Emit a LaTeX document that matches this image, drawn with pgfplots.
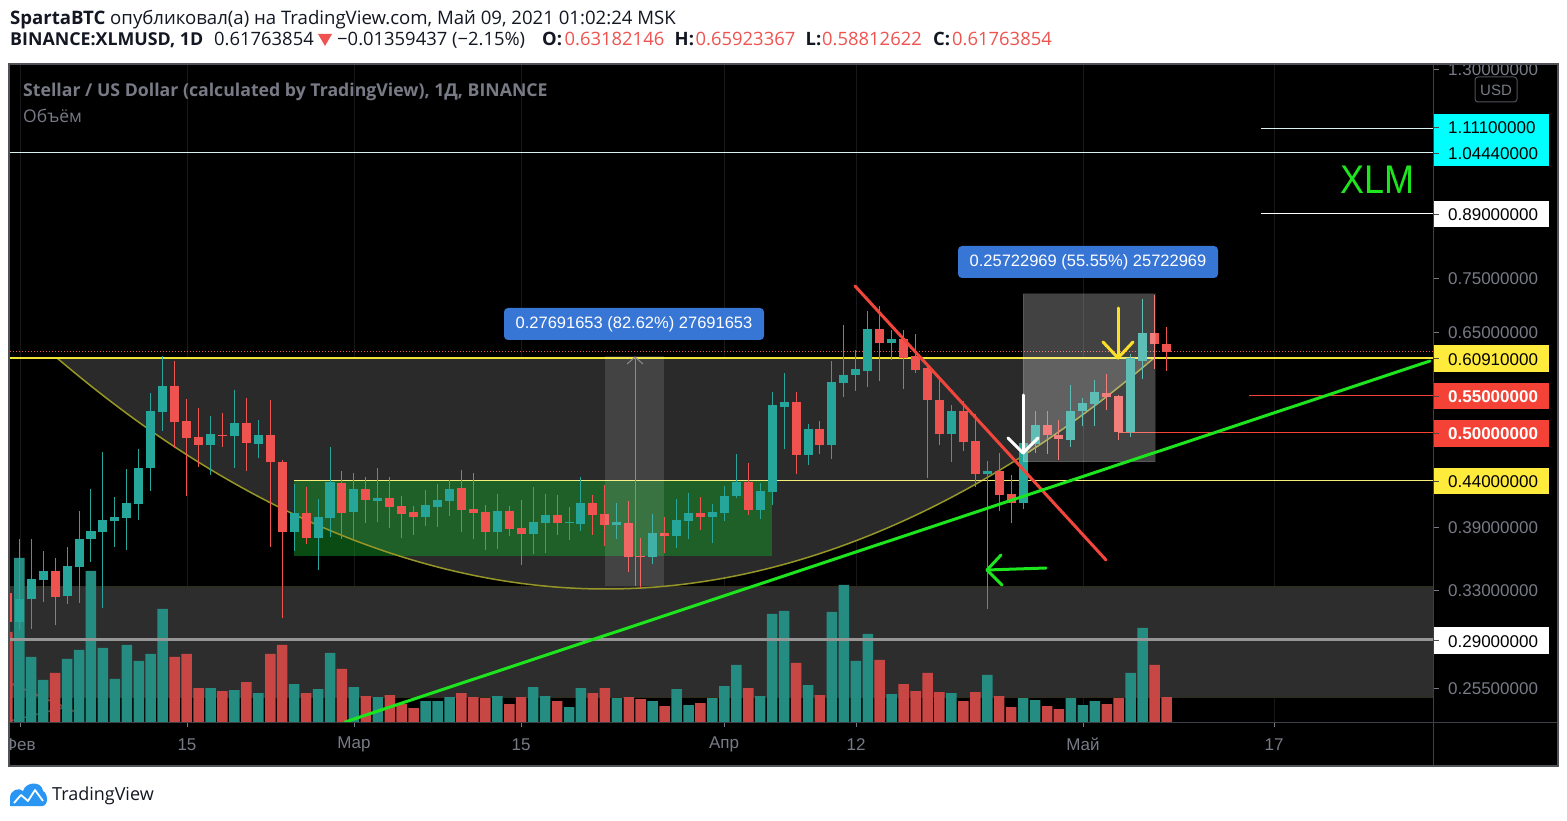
\documentclass[border=0pt]{standalone}
\usepackage{pgfplots}
\pgfplotsset{compat=1.18}
\usepackage{pgfplotstable}
\usepackage{fontspec}
\setmainfont{Open Sans}
\newfontfamily\lib{Liberation Sans}

\definecolor{cup}{RGB}{38,166,154}
\definecolor{cdown}{RGB}{239,83,80}
\definecolor{vup}{RGB}{37,140,130}
\definecolor{vdown}{RGB}{200,70,68}
\definecolor{tvgray}{RGB}{120,123,134}
\definecolor{bandc}{RGB}{45,45,45}
\definecolor{bandedge}{RGB}{45,45,25}
\definecolor{arcc}{RGB}{42,42,42}
\definecolor{arcline}{RGB}{150,150,40}
\definecolor{gboxc}{RGB}{20,150,40}
\definecolor{lvlyel}{RGB}{240,228,50}
\definecolor{lvlyel2}{RGB}{245,238,120}
\definecolor{lvlred}{RGB}{244,67,54}
\definecolor{lvlcyan}{RGB}{0,255,255}
\definecolor{lvlwhite}{RGB}{215,240,240}
\definecolor{boxyel}{RGB}{255,235,59}
\definecolor{trendred}{RGB}{242,70,60}
\definecolor{trendgreen}{RGB}{30,230,30}
\definecolor{mblue}{RGB}{56,118,214}
\definecolor{framec}{RGB}{80,82,90}
\definecolor{sepc}{RGB}{62,64,72}
\definecolor{gridc}{RGB}{24,24,26}
\definecolor{tvtext}{RGB}{19,23,34}
\definecolor{tvlogo}{RGB}{41,150,243}
\definecolor{arrowyel}{RGB}{250,225,40}
\definecolor{lvlgray}{RGB}{150,150,150}

% day index (0 = 1 Feb 2021), open, high, low, close, volume (relative units)
\pgfplotstableread{
d O H L C V
-1 0.3276 0.3346 0.2972 0.3035 90
0 0.3035 0.3777 0.2972 0.3224 164
1 0.3224 0.3777 0.2980 0.3399 65
2 0.3390 0.3659 0.3199 0.3472 42
3 0.3472 0.3593 0.3011 0.3241 49
4 0.3250 0.3698 0.3182 0.3518 63
5 0.3509 0.4065 0.3191 0.3777 72
6 0.3777 0.4308 0.3555 0.3857 151
7 0.3847 0.4749 0.3149 0.3970 74
8 0.3960 0.4218 0.3698 0.4001 43
9 0.3991 0.4541 0.3669 0.4152 77
10 0.4141 0.4787 0.3970 0.4553 61
11 0.4553 0.5547 0.4286 0.5290 68
12 0.5276 0.6114 0.5019 0.5649 113
13 0.5649 0.6034 0.4798 0.5139 65
14 0.5152 0.5459 0.4229 0.4926 68
15 0.4940 0.5331 0.4565 0.4836 34
16 0.4836 0.5221 0.4469 0.4979 34
17 0.4966 0.5262 0.4811 0.4953 31
18 0.4953 0.5591 0.4553 0.5125 32
19 0.5125 0.5473 0.4517 0.4862 40
20 0.4849 0.5166 0.4674 0.4966 29
21 0.4966 0.5445 0.3698 0.4626 68
22 0.4626 0.4650 0.3067 0.3847 77
23 0.3847 0.4365 0.3659 0.4044 38
24 0.4044 0.4330 0.3727 0.3787 29
25 0.3787 0.4195 0.3481 0.4001 33
26 0.3991 0.4812 0.3797 0.4388 69
27 0.4376 0.4517 0.3777 0.4044 53
28 0.4055 0.4493 0.3757 0.4308 35
29 0.4308 0.4446 0.3939 0.4185 26
30 0.4174 0.4553 0.3949 0.4207 25
31 0.4207 0.4446 0.3887 0.4108 27
32 0.4119 0.4229 0.3787 0.4033 18
33 0.4055 0.4119 0.3818 0.4001 14
34 0.4001 0.4297 0.3908 0.4130 21
35 0.4108 0.4365 0.3898 0.4185 21
36 0.4174 0.4411 0.4012 0.4308 25
37 0.4318 0.4529 0.3847 0.4076 29
38 0.4087 0.4493 0.3777 0.4044 25
39 0.4055 0.4130 0.3669 0.3847 24
40 0.3847 0.4252 0.3678 0.4065 26
41 0.4065 0.4119 0.3808 0.3877 18
42 0.3887 0.4185 0.3528 0.3827 25
43 0.3827 0.4330 0.3631 0.3949 35
44 0.3939 0.4252 0.3640 0.4022 26
45 0.4022 0.4241 0.3818 0.3939 21
46 0.3939 0.4108 0.3767 0.3949 15
47 0.3928 0.4446 0.3857 0.4152 34
48 0.4152 0.4241 0.3818 0.4022 29
49 0.4033 0.4353 0.3708 0.3918 34
50 0.3918 0.4152 0.3777 0.3949 24
51 0.3939 0.4174 0.3463 0.3602 25
52 0.3612 0.3787 0.3320 0.3600 23
53 0.3602 0.4033 0.3536 0.3837 21
54 0.3837 0.4001 0.3640 0.3808 16
55 0.3808 0.4196 0.3688 0.3970 33
56 0.3960 0.4263 0.3777 0.4044 17
57 0.4044 0.4218 0.3867 0.4001 19
58 0.4001 0.4141 0.3737 0.4055 24
59 0.4044 0.4342 0.3960 0.4229 36
60 0.4229 0.4724 0.4207 0.4388 57
61 0.4388 0.4613 0.4022 0.4076 34
62 0.4076 0.4376 0.3980 0.4286 26
63 0.4274 0.5562 0.4130 0.5375 108
64 0.5346 0.5846 0.4787 0.5416 111
65 0.5416 0.5562 0.4481 0.4712 59
66 0.4712 0.5112 0.4589 0.5045 37
67 0.5045 0.5152 0.4724 0.4836 27
68 0.4836 0.6034 0.4662 0.5710 110
69 0.5696 0.6643 0.5488 0.5816 137
70 0.5816 0.6212 0.5576 0.5909 61
71 0.5878 0.6883 0.5635 0.6564 88
72 0.6564 0.6974 0.5725 0.6327 62
73 0.6327 0.6547 0.6050 0.6394 28
74 0.6394 0.6547 0.5606 0.6082 38
75 0.6114 0.6478 0.5846 0.5893 31
76 0.5924 0.5940 0.4434 0.5445 49
77 0.5445 0.5740 0.4836 0.4979 30
78 0.4979 0.5374 0.4626 0.5290 29
79 0.5290 0.5431 0.4762 0.4875 21
80 0.4888 0.5248 0.4330 0.4481 30
81 0.4481 0.4638 0.3141 0.4517 47
82 0.4517 0.4737 0.4065 0.4241 26
83 0.4252 0.4469 0.3939 0.4152 15
84 0.4152 0.4901 0.4087 0.4862 24
85 0.4849 0.5290 0.4737 0.5098 22
86 0.5098 0.5290 0.4724 0.4966 16
87 0.4966 0.5166 0.4650 0.4914 13
88 0.4901 0.5665 0.4811 0.5290 24
89 0.5290 0.5473 0.5084 0.5402 17
90 0.5388 0.5740 0.5084 0.5562 21
91 0.5547 0.5831 0.5304 0.5488 18
92 0.5503 0.5518 0.4901 0.5006 24
93 0.5006 0.6147 0.4940 0.6082 49
94 0.6034 0.7104 0.5755 0.6496 94
95 0.6496 0.7179 0.5909 0.6312 57
96 0.6318 0.6592 0.5881 0.6176 25
}\candles

\newcommand\plabel[5]{%
  \fill[#3] (1433,#1) rectangle (1549,#2);
  \draw[black!70, line width=1pt] (1433,{(#1+#2)/2}) -- (1439,{(#1+#2)/2});
  \node[anchor=west, inner sep=0pt, text=#4, font=\lib\fontsize{17}{20}\selectfont] at (1448,{(#1+#2)/2+0.5}) {#5};}
\newcommand\glabel[2]{%
  \draw[tvgray, line width=1pt] (1433,#1) -- (1439,#1);
  \node[anchor=west, inner sep=0pt, text=tvgray, font=\lib\fontsize{17}{20}\selectfont] at (1448,#1+0.5) {#2};}

\begin{document}
\begin{tikzpicture}
\tikzset{px/.style={x=1pt,y=-1pt,yshift=820pt}}
\useasboundingbox (0pt,0pt) rectangle (1567pt,820pt);
\fill[white] (0pt,0pt) rectangle (1567pt,820pt);

% ---------- background layer ----------
\begin{scope}[px]
  \fill[black] (10,65) rectangle (1557,765);
  \foreach \gx in {20,187,354,521,724,856,1083,1274}{\draw[gridc, line width=1pt] (\gx,65) -- (\gx,722);}
  \fill[bandc] (10,587) rectangle (1433,697);
  \draw[bandedge, line width=1pt] (10,587) -- (1433,587);
  \draw[bandedge, line width=1pt] (10,697) -- (1433,697);
  \fill[arcc] (57,358) parabola bend (606,589) (1154,358) -- cycle;
  \fill[gboxc, opacity=0.5] (294,481) rectangle (772,556);
  \draw[arcline, line width=1.5pt] (57,358) parabola bend (606,589) (1154,358);
  \draw[cdown, opacity=0.55, line width=2pt] (10,683) -- (78,713);
  \draw[white, opacity=0.3, line width=1.5pt] (10,721) -- (66,707);

  % header
  \node[anchor=base west, inner sep=0pt, text=tvtext, font=\fontsize{18.6}{21}\selectfont] at (10,25)
    {\textbf{SpartaBTC} опубликовал(а) на TradingView.com, Май 09, 2021 01:02:24 MSK};
  \begin{scope}[every node/.style={anchor=base west, inner sep=0pt, text=tvtext, font=\fontsize{18.4}{21}\selectfont}]
    \node[font=\fontsize{17.8}{21}\selectfont] at (10,46) {\textbf{BINANCE:XLMUSD, 1D}};
    \node at (214,46) {0.61763854};
    \node at (337,46) {−0.01359437 (−2.15\%)};
    \node at (542,46) {\textbf{O:}};
    \node[text=cdown] at (564.5,46) {0.63182146};
    \node at (674.5,46) {\textbf{H:}};
    \node[text=cdown] at (695.5,46) {0.65923367};
    \node at (805.5,46) {\textbf{L:}};
    \node[text=cdown] at (822,46) {0.58812622};
    \node at (933,46) {\textbf{C:}};
    \node[text=cdown] at (952,46) {0.61763854};
  \end{scope}
  \fill[cdown] (318,34) -- (332,34) -- (325,46) -- cycle;
\end{scope}

% ---------- volume ----------
\begin{axis}[at={(10pt,98pt)}, anchor=south west, scale only axis,
  width=1423pt, height=657pt, xmin=-0.778, xmax=118.3, ymin=0, ymax=657,
  hide axis, clip=true]
  \addplot[ybar, bar width=10.5pt, bar shift=0pt, fill=vup, draw=none]
    table[x=d, y expr={\thisrow{C}>=\thisrow{O} ? \thisrow{V} : 0}] {\candles};
  \addplot[ybar, bar width=10.5pt, bar shift=0pt, fill=vdown, draw=none]
    table[x=d, y expr={\thisrow{C}<\thisrow{O} ? \thisrow{V} : 0}] {\candles};
\end{axis}

% ---------- level lines ----------
\begin{scope}[px]
  \draw[lvlwhite, line width=1pt] (10,153) -- (1433,153);
  \draw[lvlwhite, line width=1pt] (1261,129) -- (1433,129);
  \draw[white, line width=1pt] (1261,214) -- (1433,214);
  \draw[cdown, line width=1pt, dotted] (10,352) -- (1433,352);
  \draw[lvlyel, line width=1.5pt] (10,358) -- (1433,358);
  \draw[lvlred, line width=1pt] (1249,396) -- (1433,396);
  \draw[lvlred, line width=1pt] (1118,433) -- (1433,433);
  \draw[lvlyel2, line width=1pt] (294,481) -- (1433,481);
  \draw[lvlgray, line width=3pt] (10,640) -- (1433,640);
\end{scope}

% ---------- candles ----------
\begin{axis}[at={(10pt,98pt)}, anchor=south west, scale only axis,
  width=1423pt, height=657pt, xmin=-0.778, xmax=118.3,
  ymode=log, ymin=0.2333, ymax=1.3153, hide axis, clip=true]
  \pgfplotstablegetrowsof{\candles}
  \pgfmathtruncatemacro{\lastrow}{\pgfplotsretval-1}
  \pgfplotsforeachungrouped \i in {0,...,\lastrow}{%
    \pgfplotstablegetelem{\i}{d}\of\candles\let\cd\pgfplotsretval
    \pgfplotstablegetelem{\i}{O}\of\candles\let\co\pgfplotsretval
    \pgfplotstablegetelem{\i}{H}\of\candles\let\ch\pgfplotsretval
    \pgfplotstablegetelem{\i}{L}\of\candles\let\cl\pgfplotsretval
    \pgfplotstablegetelem{\i}{C}\of\candles\let\cc\pgfplotsretval
    \pgfmathsetmacro{\xa}{\cd-0.377}%
    \pgfmathsetmacro{\xb}{\cd+0.377}%
    \ifdim\cc pt<\co pt \def\ccol{cdown}\else\def\ccol{cup}\fi
    \edef\tmp{%
      \noexpand\addplot[\ccol, line width=1pt, forget plot] coordinates {(\cd,\cl) (\cd,\ch)};
      \noexpand\addplot[fill=\ccol, draw=none, forget plot] coordinates {(\xa,\co) (\xb,\co) (\xb,\cc) (\xa,\cc)} -- cycle;
    }\tmp
  }
\end{axis}

% ---------- overlays ----------
\begin{scope}[px]
  % measurement box 1
  \fill[white, opacity=0.12] (605,356) rectangle (664,586);
  \draw[white!55!black, line width=1pt] (635,586) -- (635,357);
  \draw[white!55!black, line width=1pt] (627,364) -- (635,357) -- (643,364);
  % measurement box 2
  \fill[white, opacity=0.26] (1023,294) rectangle (1155,462);
  \draw[white, opacity=0.12, line width=1pt] (1023,294) rectangle (1155,462);
  % trend lines
  \begin{scope}
    \clip (10,65) rectangle (1433,722);
    \draw[trendred, line width=3pt, line cap=round] (855,286) -- (1106,560);
    \draw[trendgreen, line width=3pt, line cap=round] (345,722) -- (1430,361);
  \end{scope}
  % arrows
  \draw[white, line width=3pt, line cap=round, line join=round] (1023,395) -- (1023,453);
  \draw[white, line width=3pt, line cap=round, line join=round] (1008,438) -- (1023,453) -- (1038,438);
  \draw[arrowyel, line width=3pt, line cap=round, line join=round] (1118,308) -- (1118,358);
  \draw[arrowyel, line width=3pt, line cap=round, line join=round] (1103,342) -- (1118,358) -- (1133,342);
  \draw[trendgreen, line width=3pt, line cap=round, line join=round] (1046,568) -- (987,570);
  \draw[trendgreen, line width=3pt, line cap=round, line join=round] (1001,555) -- (987,570) -- (1002,585);
  % measurement labels
  \fill[mblue, rounded corners=4pt] (504,308) rectangle (764,340);
  \node[text=white, font=\lib\fontsize{16.5}{20}\selectfont] at (634,324.5) {0.27691653 (82.62\%) 27691653};
  \fill[mblue, rounded corners=4pt] (958,246) rectangle (1218,278);
  \node[text=white, font=\lib\fontsize{16.5}{20}\selectfont] at (1088,262.5) {0.25722969 (55.55\%) 25722969};
  % chart titles
  \node[anchor=base west, inner sep=0pt, text=tvgray, font=\fontsize{17.7}{21}\selectfont\bfseries] at (23,96.5)
    {Stellar / US Dollar (calculated by TradingView), 1Д, BINANCE};
  \node[anchor=base west, inner sep=0pt, text=tvgray, font=\fontsize{17.5}{21}\selectfont] at (23,122.5) {Объём};
  % XLM
  \node[text=trendgreen, font=\lib\fontsize{40}{40}\selectfont] at (1377,180) {\scalebox{0.9}[1]{XLM}};

  % price scale
  \begin{scope}
    \clip (1433,65) rectangle (1557,765);
    \fill[black] (1434,65) rectangle (1557,765);
    \glabel{69.4}{1.30000000}
    \glabel{278.4}{0.75000000}
    \glabel{332.6}{0.65000000}
    \glabel{527.1}{0.39000000}
    \glabel{590.3}{0.33000000}
    \glabel{688.2}{0.25500000}
    \draw[framec, fill=black, rounded corners=3pt, line width=1pt] (1475,77) rectangle (1517,102);
    \node[text=tvgray, font=\lib\fontsize{15}{18}\selectfont] at (1496,90) {USD};
    \plabel{114}{141}{lvlcyan}{black}{1.11100000}
    \plabel{141}{166}{lvlcyan}{black}{1.04440000}
    \plabel{201}{227.5}{white}{black}{0.89000000}
    \plabel{345.5}{372}{boxyel}{black}{0.60910000}
    \plabel{383.5}{409.5}{lvlred}{white}{\textbf{0.55000000}}
    \plabel{420}{447}{lvlred}{white}{\textbf{0.50000000}}
    \plabel{468}{494.5}{boxyel}{black}{0.44000000}
    \plabel{627.5}{654}{white}{black}{0.29000000}
  \end{scope}

  % time scale
  \begin{scope}
    \clip (10,722) rectangle (1433,765);
    \foreach \tx/\tl in {20/Фев,187/15,354/Мар,521/15,724/Апр,856/12,1083/Май,1274/17}{
      \draw[tvgray, line width=1pt] (\tx,722) -- (\tx,727);
      \node[text=tvgray, font=\lib\fontsize{17}{20}\selectfont] at (\tx,744.5) {\tl};
    }
  \end{scope}

  % separators and frame
  \draw[sepc, line width=1pt] (10,722.5) -- (1557,722.5);
  \draw[sepc, line width=1pt] (1433.5,65) -- (1433.5,765);
  \draw[framec, line width=2pt] (9,64) rectangle (1558,766);

  % TradingView logo
  \fill[tvlogo] (10,806) -- (10,798) .. controls (10,790) and (19,787) .. (23,791)
     .. controls (26,781) and (42,781) .. (43,791) .. controls (48,793) and (49,806) .. (42,806) -- cycle;
  \draw[white, line width=1.8pt, line join=round] (14,803) -- (21,795) -- (28,801) -- (35,790) -- (43,801);
  \node[anchor=base west, inner sep=0pt, text=tvtext, font=\fontsize{18}{20}\selectfont] at (52,800) {TradingView};
\end{scope}
\end{tikzpicture}
\end{document}
